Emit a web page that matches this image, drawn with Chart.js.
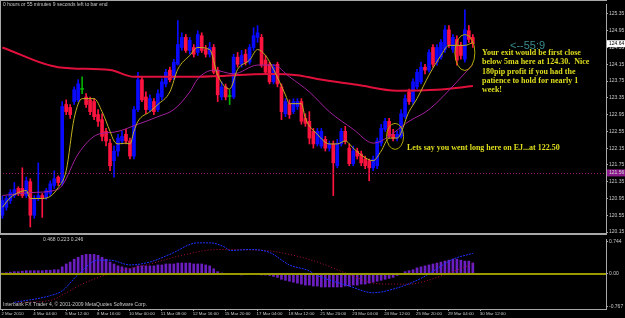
<!DOCTYPE html>
<html><head><meta charset="utf-8">
<script src="https://cdn.jsdelivr.net/npm/chart.js@4.4.1/dist/chart.umd.min.js"></script>
<style>
html,body{margin:0;padding:0;background:#000;overflow:hidden;}
#wrap{position:relative;width:625px;height:318px;background:#000;}
#main{position:absolute;left:0;top:0;width:625px;height:240px;}
#ind{position:absolute;left:0;top:235px;width:625px;height:83px;}
</style></head><body>
<div id="wrap"><canvas id="main" width="625" height="240"></canvas><canvas id="ind" width="625" height="83"></canvas></div>
<script>
// ---------- DATA (EUR/JPY H4) ----------
const open  = [120.55,120.74,120.90,121.02,121.19,121.19,121.02,121.35,120.55,120.95,121.02,120.97,121.07,121.26,121.46,121.33,123.19,123.12,123.26,123.30,123.55,123.37,123.30,123.26,122.95,122.83,122.55,122.27,121.85,122.08,122.32,122.48,122.32,121.96,123.07,123.78,123.37,123.07,123.26,123.07,123.37,123.68,124.01,123.82,124.15,124.55,124.79,124.48,124.55,124.43,124.83,124.50,124.39,124.55,124.01,123.37,123.61,123.38,123.37,124.32,124.15,124.39,124.20,124.55,124.79,124.79,124.25,124.15,123.73,124.15,123.61,122.97,123.21,123.02,123.14,123.26,122.86,122.79,122.55,122.25,122.20,122.36,122.15,122.25,121.73,122.25,122.55,122.15,121.78,122.08,122.01,121.89,121.85,121.68,121.73,122.27,122.60,122.79,122.48,122.39,122.43,122.90,123.49,123.26,123.61,123.73,124.08,124.01,124.55,124.20,124.32,124.50,124.97,124.50,124.74,124.60,124.27,124.95,124.79];
const high  = [121.00,121.00,121.16,121.33,121.23,121.68,121.46,121.42,121.02,121.80,121.07,121.19,121.37,121.61,121.49,123.26,123.30,123.19,123.61,123.78,123.85,123.45,123.37,123.33,123.07,122.97,122.62,122.36,122.20,122.48,122.55,122.60,122.39,123.14,123.96,123.85,123.49,123.42,123.33,123.54,123.80,124.03,124.08,124.27,125.19,124.90,124.86,124.79,124.62,124.95,124.90,124.60,124.67,124.62,124.08,123.73,123.68,123.54,124.39,124.43,124.48,124.50,124.62,125.02,125.07,124.86,124.36,124.20,124.15,124.20,123.68,123.33,123.30,123.33,123.33,123.33,122.97,123.02,122.62,122.62,122.62,122.43,122.32,122.32,122.36,122.62,122.67,122.25,122.20,122.15,122.08,121.96,121.89,121.96,122.39,122.72,122.86,122.86,122.60,122.55,123.07,123.42,123.56,123.80,124.03,124.20,124.15,124.50,124.62,124.62,124.74,125.07,125.07,124.86,124.83,124.67,125.45,125.07,124.86];
const low   = [120.48,120.67,120.83,120.97,121.02,120.97,120.97,120.27,120.48,120.90,120.50,120.93,121.02,121.19,121.26,121.26,122.95,122.86,123.19,123.26,123.45,123.12,122.95,122.83,122.67,122.32,122.20,121.61,121.46,121.96,122.25,122.25,121.89,121.89,123.02,123.26,122.97,123.02,122.95,123.02,123.30,123.61,123.73,123.78,124.13,124.48,124.43,124.39,124.32,124.36,124.43,124.32,124.32,123.92,123.26,123.30,123.30,123.19,123.33,124.08,124.08,124.13,124.15,124.48,124.67,124.08,123.92,123.68,123.68,123.61,122.83,122.90,122.86,122.97,123.07,122.72,122.67,122.25,122.15,122.20,122.15,122.08,122.08,121.02,121.68,122.20,122.25,121.73,121.73,121.89,121.73,121.66,121.37,121.61,121.66,122.20,122.55,122.39,122.32,122.32,122.39,122.86,123.19,123.19,123.56,123.68,123.92,123.96,124.08,124.13,124.27,124.43,124.55,124.43,124.13,124.27,124.20,124.67,124.55];
const close = [120.90,120.95,121.09,121.16,121.07,121.02,121.37,120.55,120.95,121.02,120.95,121.14,121.30,121.42,121.33,123.14,123.02,122.95,123.54,123.68,123.55,123.19,123.02,122.90,122.79,122.43,122.32,121.73,122.08,122.39,122.43,122.32,121.96,123.07,123.78,123.30,123.07,123.33,123.02,123.45,123.73,123.96,123.78,124.20,124.62,124.79,124.48,124.72,124.39,124.86,124.48,124.39,124.55,123.96,123.42,123.61,123.37,123.38,124.32,124.15,124.36,124.20,124.55,124.83,124.90,124.13,123.96,123.73,124.08,123.68,123.02,123.26,122.95,123.26,123.26,122.79,122.74,122.39,122.25,122.55,122.55,122.15,122.25,121.80,122.27,122.55,122.32,121.78,122.08,121.96,121.80,121.73,121.68,121.89,122.32,122.62,122.79,122.43,122.39,122.48,122.97,123.33,123.26,123.73,123.96,124.08,124.01,124.43,124.15,124.55,124.67,124.97,124.62,124.79,124.25,124.36,124.97,124.74,124.64];

// moving averages, read as points along each line (bar index, price)
const ma5Bars  = [0,2,4,6,7,10,12,14,16,18,20,23,25,27,28,29,31,32,33,34,37,39,42,44,47,49,52,54,57,59,62,64,66,68,71,72,75,76,79,82,84,86,88,91,93,95,97,99,102,104,107,110,112,116,118];
const ma5Vals  = [120.74,120.97,121.09,121.14,120.95,120.95,121.00,121.21,121.61,122.86,123.33,123.33,123.02,122.55,122.32,122.25,122.27,122.25,122.55,122.79,123.02,123.19,123.49,124.03,124.36,124.55,124.50,123.89,123.56,124.03,124.25,124.50,124.36,124.03,123.42,123.21,123.21,122.86,122.48,122.25,122.25,122.32,122.15,121.92,121.85,122.08,122.39,122.39,123.02,123.33,123.89,124.36,124.60,124.60,124.67];
const ma21Bars = [0,7,13,15,19,24,28,34,39,43,47,49,53,58,64,68,72,77,82,88,93,95,102,107,114,118];
const ma21Vals = [121.02,121.09,121.14,121.26,122.01,122.48,122.53,122.72,122.90,123.07,123.49,123.80,124.01,123.92,124.13,124.13,123.85,123.49,123.02,122.60,122.27,122.32,122.79,123.07,123.73,124.15];
const ma200Bars = [0,14,27,33,49,67,74,79,89,99,109,118];
const ma200Vals = [124.55,124.08,124.01,123.85,123.85,123.92,123.89,123.80,123.66,123.52,123.54,123.63];

const bidPrice = 121.56;
const lastPrice = 124.64;
const priceTicks = [125.35,124.95,124.55,124.15,123.75,123.35,122.95,122.55,122.15,121.75,121.35,120.95,120.55,120.15];

// oscillator panel
const hist = [0.011,0.022,0.033,0.044,0.044,0.056,0.067,0.067,0.067,0.067,0.067,0.078,0.078,0.089,0.089,0.156,0.222,0.267,0.333,0.378,0.422,0.444,0.444,0.444,0.422,0.378,0.333,0.267,0.222,0.178,0.156,0.133,0.111,0.133,0.178,0.178,0.178,0.178,0.178,0.2,0.2,0.222,0.222,0.222,0.244,0.244,0.244,0.244,0.222,0.222,0.222,0.2,0.178,0.111,0.044,0.011,-0.022,-0.022,-0.022,-0.022,-0.033,-0.022,-0.022,-0.022,-0.022,-0.033,-0.033,-0.044,-0.067,-0.089,-0.133,-0.156,-0.178,-0.2,-0.222,-0.244,-0.267,-0.267,-0.289,-0.289,-0.311,-0.311,-0.311,-0.311,-0.311,-0.311,-0.289,-0.289,-0.267,-0.267,-0.244,-0.244,-0.222,-0.2,-0.178,-0.156,-0.133,-0.111,-0.089,-0.044,-0.022,0.044,0.067,0.089,0.133,0.156,0.178,0.2,0.222,0.244,0.267,0.289,0.311,0.333,0.333,0.311,0.289,0.289,0.246];
const macdBars = [3,12,15,19,24,27,32,37,42,49,52,56,57,62,67,72,77,78,87,93,99,105,109,113,118];
const macdVals = [-0.667,-0.511,-0.400,-0.022,0.311,0.311,0.200,0.267,0.444,0.711,0.711,0.600,0.533,0.556,0.489,0.200,0.060,0.000,-0.289,-0.444,-0.333,-0.111,0.111,0.333,0.468];
const signalBars = [4,12,16,20,27,37,45,54,66,72,79,87,93,97,102,106,111,118];
const signalVals = [-0.667,-0.622,-0.444,-0.244,0.000,0.222,0.422,0.556,0.533,0.444,0.267,-0.022,-0.222,-0.244,-0.244,-0.178,-0.022,0.223];
const indTicks = [0.744,0.00,-0.767];
const indTickLabels = ['0.744','0.00','-0.767'];

const xTickBars   = [0,8,16,24,32,40,48,56,64,72,80,88,96,104,112,120];
const xTickLabels = ['2 Mar 2010','4 Mar 04:00','5 Mar 12:00','8 Mar 16:00','10 Mar 00:00','11 Mar 08:00','12 Mar 16:00','15 Mar 20:00','17 Mar 04:00','18 Mar 12:00','21 Mar 20:00','23 Mar 04:00','24 Mar 12:00','25 Mar 20:00','29 Mar 04:00','30 Mar 12:00'];

// ---------- STYLE ----------
const UP='#0a0aff', DOWN='#ff1440', DOJI='#00b000';
const GRID='#a8a8a8', TXT='#c8c8c8';
const X_MIN=-0.6, X_MAX=151.4;
const small = {family:'Liberation Sans', size:5};
const xfont = {family:'Liberation Sans', size:4.4};
const candleColor = i => close[i]>open[i] ? UP : (close[i]<open[i] ? DOWN : DOJI);
const pts = (b,v) => b.map((x,k)=>({x, y:v[k]}));
const fixX = s => { s.min = X_MIN; s.max = X_MAX; };

const mainDecor = {
  id:'mainDecor',
  afterDatasetsDraw(c){
    const {ctx, chartArea:a, scales:{x,y}} = c;
    ctx.save();
    const yb = Math.round(y.getPixelForValue(bidPrice))+0.5;
    ctx.strokeStyle='#9a1c6c'; ctx.lineWidth=1; ctx.setLineDash([1,2]);
    ctx.beginPath(); ctx.moveTo(a.left,yb); ctx.lineTo(a.right,yb); ctx.stroke();
    ctx.setLineDash([]);
    ctx.strokeStyle='#b0a800'; ctx.lineWidth=1;
    [[98.5,122.43,8.5,13],[116,124.43,10,18]].forEach(([b,p,rx,ry])=>{
      ctx.beginPath(); ctx.ellipse(x.getPixelForValue(b), y.getPixelForValue(p), rx, ry, 0, 0, Math.PI*2); ctx.stroke();
    });
    ctx.fillStyle='#dede1e'; ctx.font='bold 8px "Liberation Serif"'; ctx.textBaseline='middle'; ctx.textAlign='left';
    ['Your exit would be first close','below 5ma here at 124.30.  Nice','180pip profit if you had the','patience to hold for nearly 1','week!']
      .forEach((t,k)=>ctx.fillText(t, 482, 53+k*9.3));
    ctx.fillText('Lets say you went long here on EJ...at 122.50', 407, 148);
    ctx.fillStyle='#3a8c8c'; ctx.font='11px "Liberation Sans"';
    ctx.fillText('<--55:9', 510, 46);
    ctx.fillStyle=TXT; ctx.font='5px "Liberation Sans"';
    ctx.fillText('0 hours or 55 minutes 9 seconds left to bar end', 3, 5);
    ctx.restore();
  },
  afterDraw(c){
    const {ctx, chartArea:a, scales:{y}} = c;
    ctx.save();
    ctx.fillStyle=GRID;
    ctx.fillRect(0,0,a.right+1,1);
    ctx.fillRect(0,0,1,a.bottom);
    ctx.fillRect(0,a.bottom,a.right+1,2);
    ctx.font='5px "Liberation Sans"'; ctx.textBaseline='middle'; ctx.textAlign='left';
    let yp = y.getPixelForValue(lastPrice);
    ctx.fillStyle='#ffffff'; ctx.fillRect(a.right+1, yp-3.5, 18, 7);
    ctx.fillStyle='#000'; ctx.fillText(lastPrice.toFixed(2), a.right+3, yp);
    yp = y.getPixelForValue(bidPrice);
    ctx.fillStyle='#8a1a8a'; ctx.fillRect(a.right+1, yp-3.5, 18, 7);
    ctx.fillStyle='#d8d8d8'; ctx.fillText(bidPrice.toFixed(2), a.right+3, yp);
    ctx.restore();
  }
};

new Chart(document.getElementById('main'), {
  type:'bar',
  data:{datasets:[
    {type:'line', data:pts(ma5Bars,ma5Vals), borderColor:'#c0b020', borderWidth:1, pointRadius:0, cubicInterpolationMode:'monotone', order:1},
    {type:'line', data:pts(ma21Bars,ma21Vals), borderColor:'#a0209a', borderWidth:1, pointRadius:0, cubicInterpolationMode:'monotone', order:2},
    {type:'line', data:pts(ma200Bars,ma200Vals), borderColor:'#e0103c', borderWidth:2, pointRadius:0, cubicInterpolationMode:'monotone', order:3},
    {data:open.map((o,i)=>({x:i, y:[o, close[i]]})), backgroundColor:c=>candleColor(c.dataIndex), barThickness:3, grouped:false, minBarLength:1, order:5},
    {data:open.map((o,i)=>({x:i, y:[low[i], high[i]]})), backgroundColor:c=>candleColor(c.dataIndex), barThickness:1, grouped:false, order:6}
  ]},
  options:{
    responsive:false, animation:false, events:[],
    layout:{padding:{left:0, top:1, right:0, bottom:7}, autoPadding:false},
    plugins:{legend:{display:false}, tooltip:{enabled:false}},
    scales:{
      x:{type:'linear', min:X_MIN, max:X_MAX, bounds:'data', offset:false, display:false,
         afterBuildTicks:fixX},
      y:{type:'linear', position:'right', min:120.127, max:125.586,
         afterBuildTicks:s=>{s.ticks = priceTicks.map(v=>({value:v}));},
         afterFit:s=>{s.width=19;},
         ticks:{font:small, color:TXT, padding:1, callback:v=>v.toFixed(2)},
         grid:{drawOnChartArea:false, tickLength:2, color:GRID},
         border:{display:true, color:GRID}}
    }
  },
  plugins:[mainDecor]
});

const indDecor = {
  id:'indDecor',
  afterDatasetsDraw(c){
    const {ctx, chartArea:a, scales:{y}} = c;
    ctx.save();
    const y0 = y.getPixelForValue(0);
    ctx.fillStyle='#9a9a00'; ctx.fillRect(a.left, Math.round(y0)-1, a.right-a.left, 2);
    ctx.fillStyle=GRID; ctx.fillRect(0,a.top-1,1,a.bottom-a.top+1);
    ctx.fillStyle=TXT; ctx.font='5px "Liberation Sans"'; ctx.textBaseline='middle'; ctx.textAlign='left';
    ctx.fillText('0.468 0.223 0.246', 43, 5);
    ctx.fillText('Interbank FX Trader 4, \u00a9 2001-2009 MetaQuotes Software Corp.', 3, 70);
    ctx.restore();
  }
};

new Chart(document.getElementById('ind'), {
  type:'bar',
  data:{datasets:[
    {type:'line', data:pts(macdBars,macdVals), borderColor:'#2030ff', borderWidth:1, borderDash:[2,1], pointRadius:0, cubicInterpolationMode:'monotone', order:1},
    {type:'line', data:pts(signalBars,signalVals), borderColor:'#a81040', borderWidth:1, borderDash:[1,2], pointRadius:0, cubicInterpolationMode:'monotone', order:2},
    {data:hist.map((v,i)=>({x:i, y:v})), backgroundColor:'#6c1fc0', barThickness:2, grouped:false, order:5}
  ]},
  options:{
    responsive:false, animation:false, events:[],
    layout:{padding:{left:0, top:1, right:0, bottom:0}, autoPadding:false},
    plugins:{legend:{display:false}, tooltip:{enabled:false}},
    scales:{
      x:{type:'linear', min:X_MIN, max:X_MAX, bounds:'data', offset:false, position:'bottom',
         afterBuildTicks:s=>{fixX(s); s.ticks = xTickBars.map(v=>({value:v}));},
         afterFit:s=>{s.height=9; s.paddingLeft=0; s.paddingRight=0;},
         ticks:{font:xfont, color:TXT, padding:0, align:'start', labelOffset:-1, maxRotation:0, autoSkip:false,
                callback:(v,i)=>xTickLabels[i]},
         grid:{drawOnChartArea:false, tickLength:2, color:GRID, offset:false},
         border:{display:true, color:GRID}},
      y:{type:'linear', position:'right', min:-0.82, max:0.80,
         afterBuildTicks:s=>{s.ticks = indTicks.map(v=>({value:v}));},
         afterFit:s=>{s.width=19;},
         ticks:{font:small, color:TXT, padding:1, callback:(v,i)=>indTickLabels[i]},
         grid:{drawOnChartArea:false, tickLength:2, color:GRID},
         border:{display:true, color:GRID}}
    }
  },
  plugins:[indDecor]
});
</script>
</body></html>
